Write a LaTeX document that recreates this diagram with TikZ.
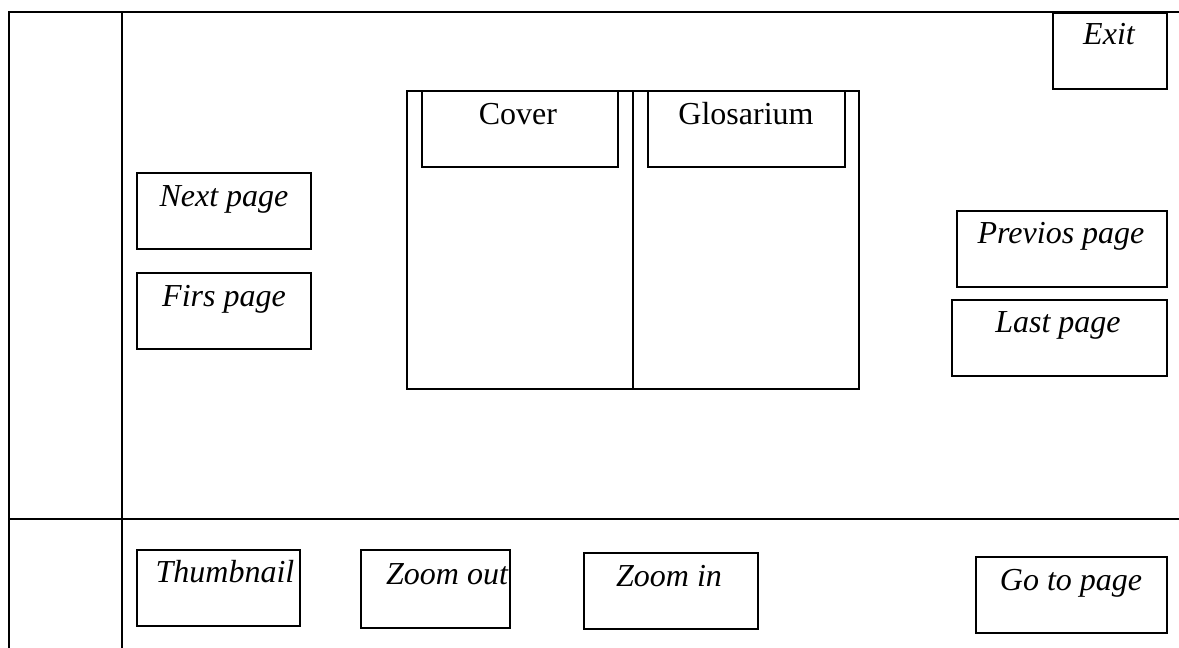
\documentclass[tikz,border=0pt]{standalone}
\usepackage{fontspec}
\setmainfont{Liberation Serif}
\begin{document}
\begin{tikzpicture}[x=1pt,y=-1pt,
  ln/.style={draw=black,line width=1.9pt},
  btn/.style={draw=black,line width=1.9pt,fill=white},
  lab/.style={font=\fontsize{32}{32}\selectfont\itshape,anchor=base,inner sep=0pt},
  labr/.style={font=\fontsize{32}{32}\selectfont,anchor=base,inner sep=0pt}]
\useasboundingbox[fill=white] (0,0) rectangle (1179,648);
\coordinate (tl) at (9,12); \coordinate (tr) at (1179,12);
\coordinate (ml) at (9,519); \coordinate (mr) at (1179,519);
\coordinate (bl) at (9,648); \coordinate (vt) at (122,12); \coordinate (vb) at (122,648);
\coordinate (bkt) at (633,91); \coordinate (bkb) at (633,389);
\draw[ln] (tr) -- (tl) -- (bl);
\draw[ln] (ml) -- (mr);
\draw[ln] (vt) -- (vb);
\path[btn] (407,91) rectangle (859,389);
\draw[ln] (bkt) -- (bkb);
\path[btn] (1053,13) rectangle (1167,89) (422,91) rectangle (618,167) (648,91) rectangle (845,167)
 (137,173) rectangle (311,249) (137,273) rectangle (311,349)
 (957,211) rectangle (1167,287) (952,300) rectangle (1167,376)
 (137,550) rectangle (300,626) (361,550) rectangle (510,628) (584,553) rectangle (758,629) (976,557) rectangle (1167,633);
\node[lab] (exit) at (1109,44) {Exit};
\node[labr] (cover) at (518,124) {Cover};
\node[labr] (glos) at (746,124) {Glosarium};
\node[lab] (next) at (224,206) {Next page};
\node[lab] (firs) at (224,306) {Firs page};
\node[lab] (prev) at (1061,243) {Previos page};
\node[lab] (last) at (1058,332) {Last page};
\node[lab] (thumb) at (225,582) {Thumbnail};
\node[lab] (zout) at (447,584) {Zoom out};
\node[lab] (zin) at (669,586) {Zoom in};
\node[lab] (go) at (1071,590) {Go to page};
\end{tikzpicture}
\end{document}
